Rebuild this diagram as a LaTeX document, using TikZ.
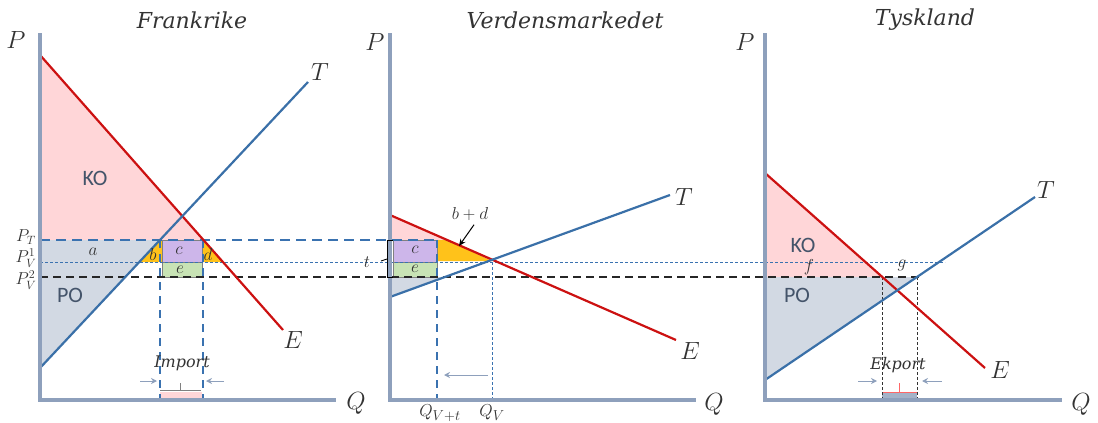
\documentclass[tikz,border=0pt]{standalone}
\usepackage{fontspec}
\setmainfont{DejaVu Serif}
\newfontfamily\calib{Carlito}
\usetikzlibrary{arrows.meta}
\definecolor{axisc}{HTML}{8EA0BC}
\definecolor{redl}{HTML}{CC1111}
\definecolor{bluel}{HTML}{3A70A8}
\definecolor{dashb}{HTML}{3A72B0}
\definecolor{pinkf}{HTML}{FFD6D8}
\definecolor{grayf}{HTML}{D2D9E3}
\definecolor{yelf}{HTML}{FFC21A}
\definecolor{purpf}{HTML}{CDB6EA}
\definecolor{greenf}{HTML}{C8E3B5}
\definecolor{txt}{HTML}{333333}
\definecolor{kotxt}{HTML}{44546A}
\tikzset{
  axisline/.style={draw=axisc,line width=3.5pt},
  demand/.style={draw=redl,line width=2.2pt},
  supply/.style={draw=bluel,line width=2.2pt},
  ptline/.style={draw=dashb,line width=2.2pt,dash pattern=on 10pt off 6pt},
  pvone/.style={draw=dashb,line width=0.9pt,dash pattern=on 3pt off 2pt},
  pvtwo/.style={draw=black!85,line width=2.2pt,dash pattern=on 8pt off 5pt},
  vdash/.style={draw=dashb,line width=2.2pt,dash pattern=on 8pt off 6pt},
  vdot/.style={draw=dashb,line width=0.9pt,dash pattern=on 3pt off 2pt},
  kdash/.style={draw=black!80,line width=0.9pt,dash pattern=on 3pt off 2pt},
  smallarrow/.style={draw=axisc,line width=1pt,-{Stealth[length=6pt,width=6pt]}},
  ttl/.style={font=\fontsize{22}{26}\selectfont\itshape,text=txt},
  axl/.style={font=\fontsize{26}{30}\selectfont,text=txt},
  sml/.style={font=\fontsize{19}{22}\selectfont,text=txt,inner sep=0pt},
  pl/.style={font=\fontsize{18}{22}\selectfont,text=txt,inner sep=0pt},
  ko/.style={font=\calib\fontsize{22}{26}\selectfont,text=kotxt},
  it/.style={font=\fontsize{16}{19}\selectfont\itshape,text=txt,inner sep=0pt}
}
\begin{document}
\begin{tikzpicture}[x=1pt,y=-1pt]
\useasboundingbox (0,0) rectangle (1098,423);
% ---------- coordinates
\coordinate (L0) at (40,400); \coordinate (Ltop) at (40,33); \coordinate (Lx) at (336,400);
\coordinate (LE1) at (40,55); \coordinate (LE2) at (283,330);
\coordinate (LT1) at (40,368); \coordinate (LT2) at (308,82);
\coordinate (M0) at (390,400); \coordinate (Mtop) at (390,33); \coordinate (Mx) at (696,400);
\coordinate (ME1) at (390,215); \coordinate (ME2) at (676,340);
\coordinate (MT1) at (390,297); \coordinate (MT2) at (670,195);
\coordinate (R0) at (765,400); \coordinate (Rtop) at (765,33); \coordinate (Rx) at (1062,400);
\coordinate (RE1) at (765,173); \coordinate (RE2) at (985,368);
\coordinate (RT1) at (765,380); \coordinate (RT2) at (1035,197);
% ---------- fills left
\fill[pinkf] (40,55) -- (40,240) -- (203,240) -- cycle;
\fill[grayf] (40,240) -- (160,240) -- (40,368) -- cycle;
\fill[yelf] (160,240) -- (162,240) -- (162,262) -- (139,262) -- cycle;
\fill[yelf] (202,240) -- (204,240) -- (223,262) -- (202,262) -- cycle;
\filldraw[fill=purpf,draw=gray,line width=0.8pt] (162,240) rectangle (202,262);
\filldraw[fill=greenf,draw=gray,line width=0.8pt] (162,262) rectangle (202,277);
\fill[pinkf] (160,392) rectangle (202,400);
% ---------- fills middle
\fill[pinkf] (390,215) -- (390,240) -- (447,240) -- cycle;
\fill[grayf] (390,277) -- (445,277) -- (390,297) -- cycle;
\fill[yelf] (437,240) -- (447,240) -- (492,261) -- (437,261) -- cycle;
\filldraw[fill=purpf,draw=gray,line width=0.8pt] (393,240) rectangle (437,262);
\filldraw[fill=greenf,draw=gray,line width=0.8pt] (393,262) rectangle (437,277);
% ---------- fills right
\fill[pinkf] (765,173) -- (765,277) -- (882,277) -- cycle;
\fill[grayf] (765,277) -- (917,277) -- (765,380) -- cycle;
\fill[axisc!80] (882,392) rectangle (917,400);
\draw[red!60,line width=0.8pt] (882,392) -- (917,392) (899.5,392) -- (899.5,383);
% ---------- price lines
\draw[ptline] (40,240) -- (437,240);
\draw[pvone] (40,262) -- (945,262);
\draw[pvtwo] (40,277) -- (920,277);
% ---------- verticals
\draw[vdash] (160,240) -- (160,400);
\draw[vdash] (203,240) -- (203,400);
\draw[vdash] (437,240) -- (437,400);
\draw[vdot] (492,262) -- (492,400);
\draw[kdash] (882,277) -- (882,400);
\draw[kdash] (917,277) -- (917,400);
% ---------- curves
\draw[demand] (LE1) -- (LE2);
\draw[supply] (LT1) -- (LT2);
\draw[demand] (ME1) -- (ME2);
\draw[supply] (MT1) -- (MT2);
\draw[demand] (RE1) -- (RE2);
\draw[supply] (RT1) -- (RT2);
% ---------- axes
\draw[axisline] (Ltop) -- (L0) -- (Lx);
\draw[axisline] (Mtop) -- (M0) -- (Mx);
\draw[axisline] (Rtop) -- (R0) -- (Rx);
% ---------- titles and axis labels
\node[ttl] (t1) at (192,20) {Frankrike};
\node[ttl] (t2) at (565,20) {Verdensmarkedet};
\node[ttl] (t3) at (925,20) {Tyskland};
\node[axl] (p1) at (16,40) {$P$};
\node[axl] (p2) at (375,42) {$P$};
\node[axl] (p3) at (745,42) {$P$};
\node[axl] (q1) at (356,403) {$Q$};
\node[axl] (q2) at (714,404) {$Q$};
\node[axl] (q3) at (1081,404) {$Q$};
\node[axl] (T1) at (320,72) {$T$};
\node[axl] (E1) at (293,340) {$E$};
\node[axl] (T2) at (684,197) {$T$};
\node[axl] (E2) at (690,351) {$E$};
\node[axl] (T3) at (1046,190) {$T$};
\node[axl] (E3) at (1000,370) {$E$};
% ---------- price labels
\node[pl] (lpt) at (26,237) {$P_T$};
\node[pl] (lpv1) at (26,258) {$P_V^1$};
\node[pl] (lpv2) at (26,280) {$P_V^2$};
% ---------- area labels left
\node[ko] (ko1) at (95,178) {KO};
\node[ko] (po1) at (70,295) {PO};
\node[sml] (la) at (93,252) {$a$};
\node[sml] (lb) at (153,254) {$b$};
\node[sml] (lc) at (179,251) {$c$};
\node[sml] (ld) at (208,254) {$d$};
\node[sml] (le) at (180,270) {$e$};
\node[it] (imp) at (182,363) {Import};
\draw[gray,line width=0.7pt] (160,390) -- (201,390) (180.5,390) -- (180.5,383);
\coordinate (ia1) at (140,381); \coordinate (ia2) at (157,381);
\coordinate (ia3) at (224,381); \coordinate (ia4) at (206,381);
\draw[smallarrow] (ia1) -- (ia2);
\draw[smallarrow] (ia3) -- (ia4);
% ---------- middle labels
\node[sml] (mc) at (415,250) {$c$};
\node[sml] (me) at (415,269) {$e$};
\node[sml] (bd) at (470,214) {$b+d$};
\coordinate (bdt) at (459,246);
\draw[black,line width=1pt,-{Stealth[length=7pt,width=6pt]}] (bd.south) ++(4,4) -- (bdt);
\draw[black,line width=1pt] (393,240) -- (387,240) -- (387,277) -- (393,277);
\draw[black,line width=0.8pt] (387,259) -- (381,261);
\node[sml] (tt) at (367,262) {$t$};
\node[sml] (qvt) at (440,413) {$Q_{V+t}$};
\node[sml] (qv) at (492,413) {$Q_V$};
\coordinate (ma1) at (488,375); \coordinate (ma2) at (444,375);
\draw[smallarrow] (ma1) -- (ma2);
% ---------- right labels
\node[ko] (ko3) at (803,245) {KO};
\node[ko] (po3) at (797,295) {PO};
\node[sml] (lf) at (809,267) {$f$};
\node[sml] (lg) at (902,265) {$g$};
\node[it] (exp) at (898,365) {Ekport};
\coordinate (ea1) at (858,381); \coordinate (ea2) at (877,381);
\coordinate (ea3) at (942,381); \coordinate (ea4) at (922,381);
\draw[smallarrow] (ea1) -- (ea2);
\draw[smallarrow] (ea3) -- (ea4);
\end{tikzpicture}
\end{document}
